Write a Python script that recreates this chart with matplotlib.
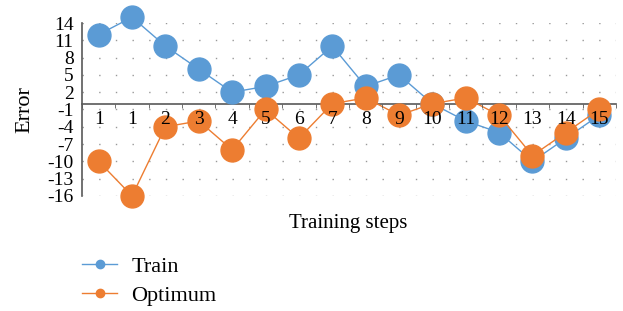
import matplotlib
matplotlib.use("Agg")
import matplotlib.pyplot as plt
from matplotlib.lines import Line2D
import numpy as np

categories = ["1", "1", "2", "3", "4", "5", "6", "7", "8", "9", "10", "11", "12", "13", "14", "15"]
train = [12, 15, 10, 6, 2, 3, 5, 10, 3, 5, 0, -3, -5, -10, -6, -2]
optimum = [-10, -16, -4, -3, -8, -1, -6, 0, 1, -2, 0, 1, -2, -9, -5, -1]
yticks = [14, 11, 8, 5, 2, -1, -4, -7, -10, -13, -16]

blue = "#5B9BD5"
orange = "#ED7D31"
plt.rcParams['font.family'] = ['Liberation Serif', 'DejaVu Serif']

fig = plt.figure(figsize=(6.23, 3.11), dpi=100)
ax = fig.add_axes([0.1316, 0.370, 0.857, 0.556])
ax.set_axisbelow(False)
x = np.arange(len(categories))

ax.plot(x, train, color=blue, lw=1, marker='o', ms=16.5, mec=blue, clip_on=False, zorder=2.0)
ax.plot(x, optimum, color=orange, lw=1, marker='o', ms=16.5, mec=orange, clip_on=False, zorder=2.1)

ax.set_xlim(-0.5, len(categories) - 0.5)
ax.set_ylim(-16, 14)
ax.set_yticks(yticks)
ax.set_yticklabels([str(v) for v in yticks], fontsize=14)
for v in yticks:
    ax.axhline(v, color='#999999', lw=1.0, ls=(0, (1, 11)), zorder=1)

ax.spines['top'].set_visible(False)
ax.spines['right'].set_visible(False)
ax.spines['bottom'].set_position(('data', 0))
ax.spines['bottom'].set_color('#595959')
ax.spines['left'].set_color('#595959')
ax.spines['left'].set_linewidth(1.2)
ax.spines['bottom'].set_linewidth(1.2)
for s in ax.spines.values():
    s.set_zorder(1.5)

ax.set_xticks(x)
ax.set_xticklabels(categories, fontsize=14)
ax.set_xticks(np.arange(-0.5, len(categories)), minor=True)
ax.tick_params(axis='x', which='major', length=0, pad=5)
ax.tick_params(axis='x', which='minor', length=3, color='#595959', direction='out')
ax.tick_params(axis='y', length=0, pad=6)

ax.set_ylabel("Error", fontsize=16)
ax.yaxis.set_label_coords(-0.090, 0.5)
fig.text(0.559, 0.281, "Training steps", fontsize=15, ha='center', va='center')

handles = [Line2D([0], [0], color=blue, lw=1, marker='o', ms=6),
           Line2D([0], [0], color=orange, lw=1, marker='o', ms=6)]
fig.legend(handles, ["Train", "Optimum"], loc='upper left', bbox_to_anchor=(0.1316, 0.175),
           frameon=False, fontsize=16, handlelength=1.58, labelspacing=0.38,
           handletextpad=0.63, borderpad=0, borderaxespad=0)

fig.savefig("out.png", dpi=100)
